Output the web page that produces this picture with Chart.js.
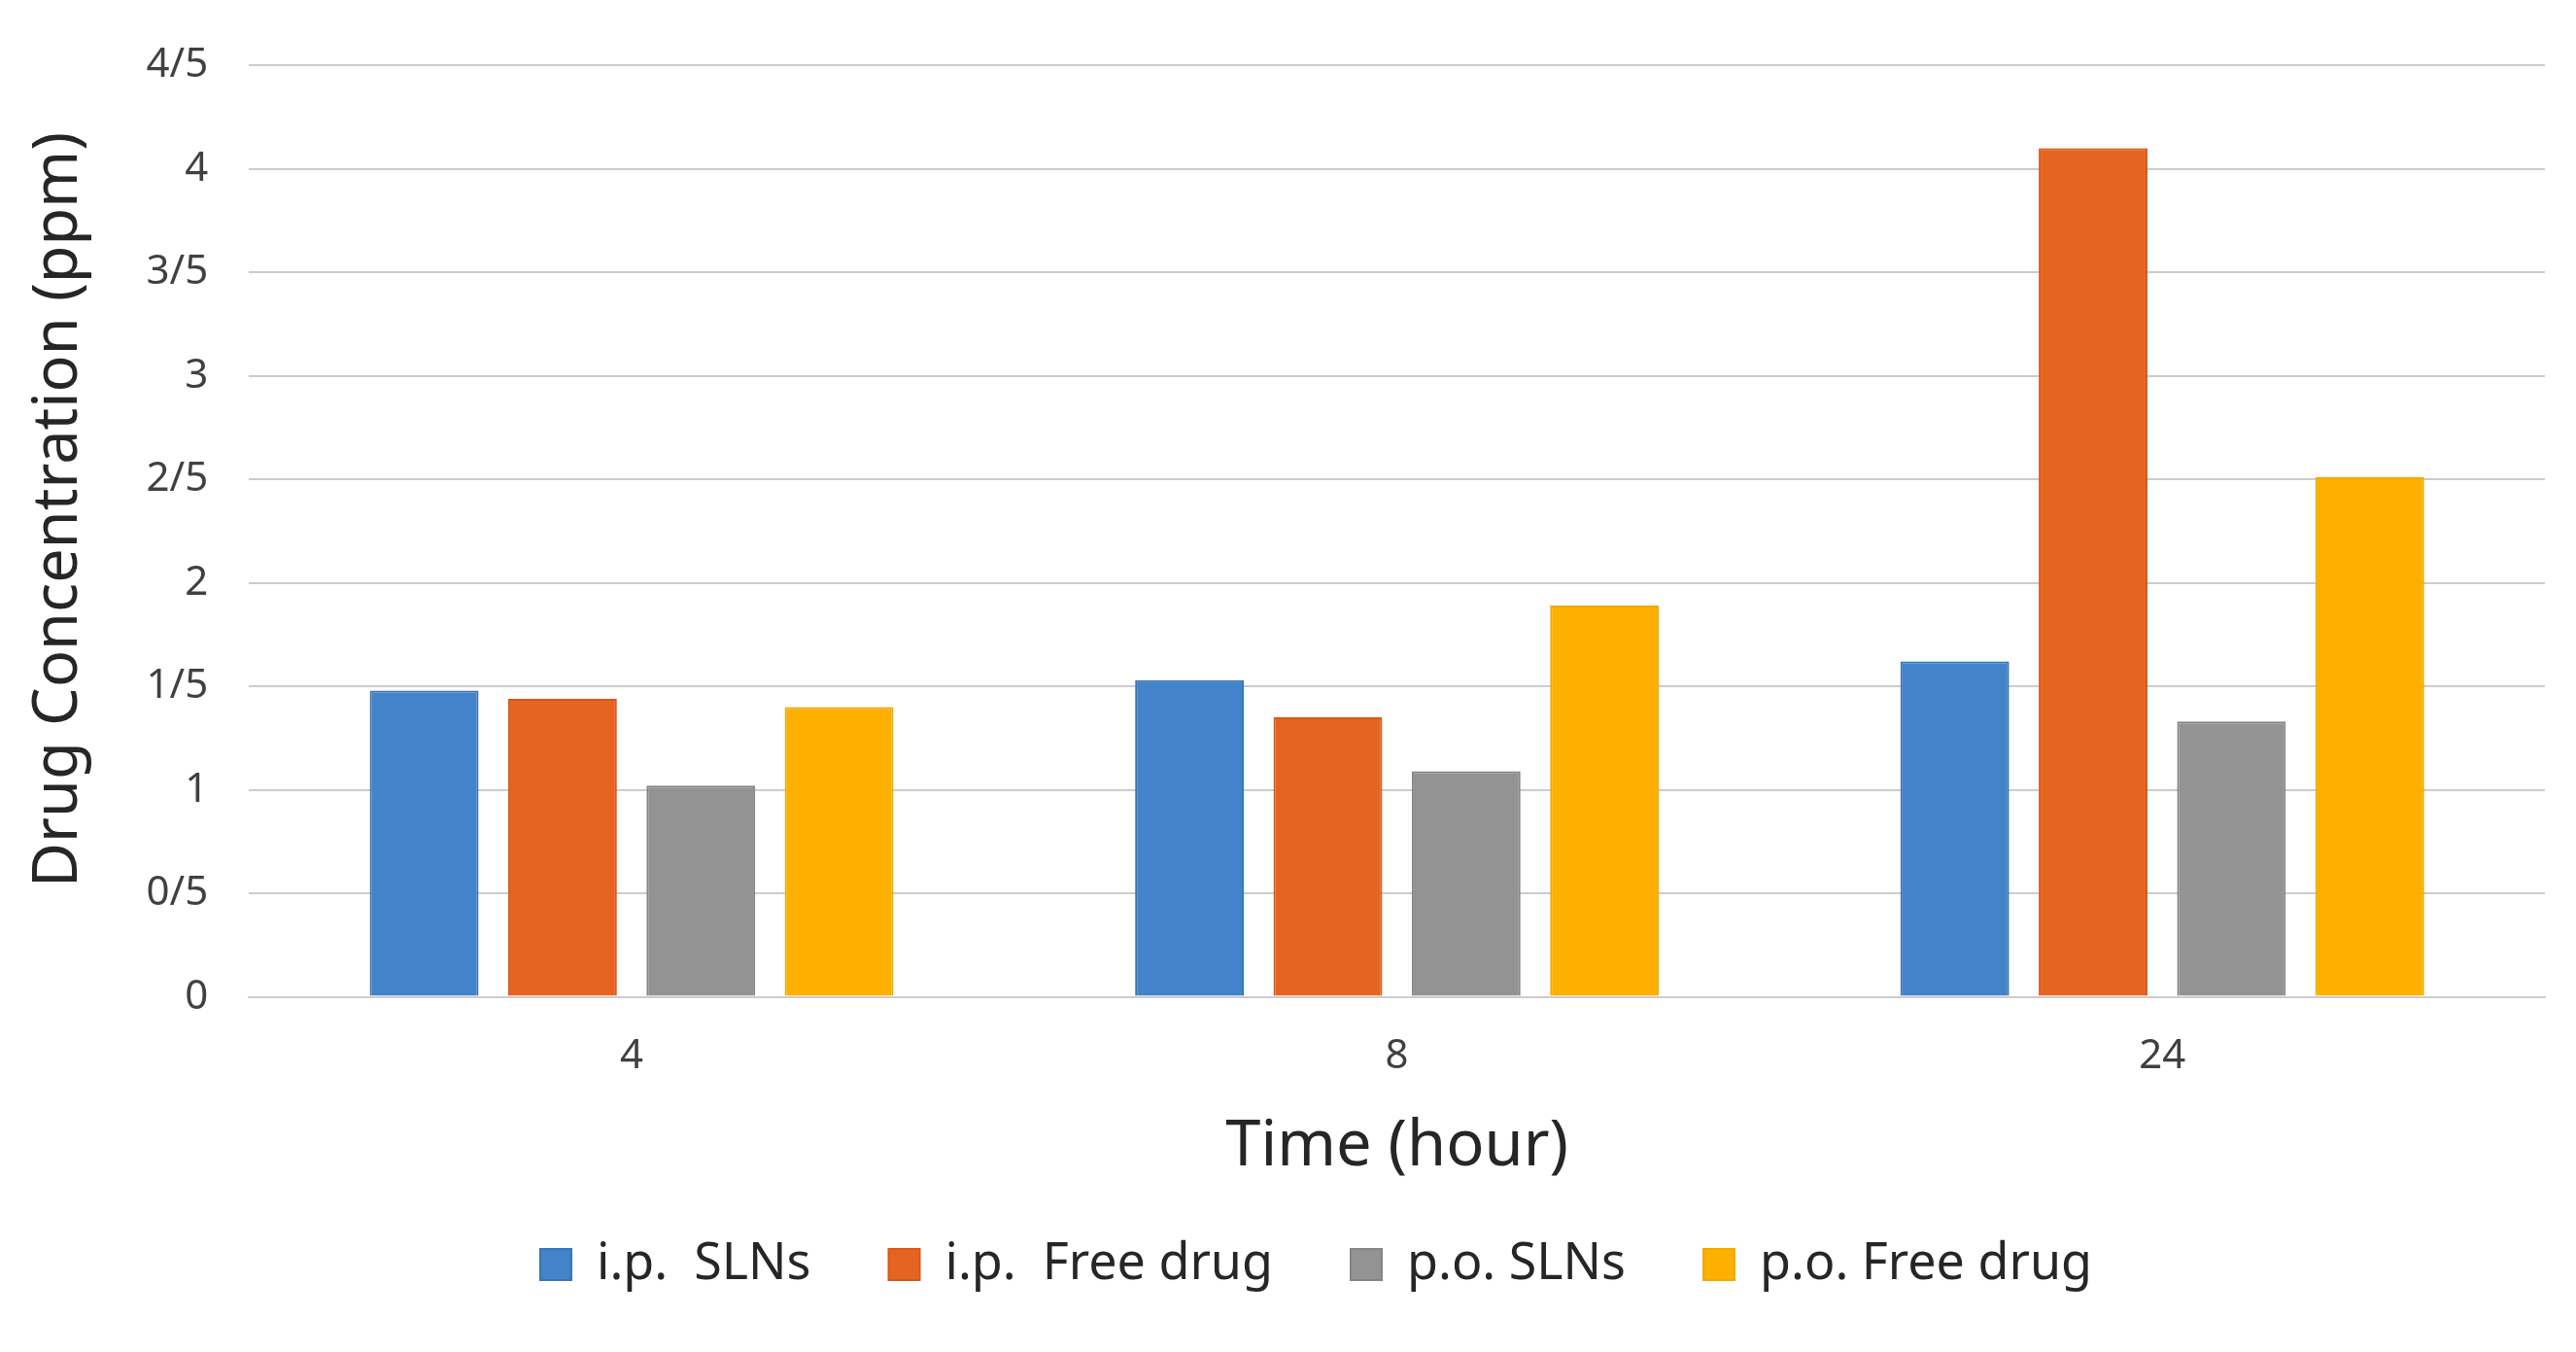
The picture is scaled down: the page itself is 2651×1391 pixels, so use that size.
<!DOCTYPE html>
<html>
<head>
<meta charset="utf-8">
<script src="https://cdn.jsdelivr.net/npm/chart.js@4.4.1/dist/chart.umd.min.js"></script>
<style>
  html, body { margin: 0; padding: 0; background: #fff; }
  #wrap { width: 2651px; height: 1391px; position: relative; }
</style>
</head>
<body>
<div id="wrap"><canvas id="chart"></canvas></div>
<script>
'use strict';

// categories (hours) and series
const timeLabels   = ['4', '8', '24'];
const ipSLNs       = [1.48, 1.53, 1.62];
const ipFreeDrug   = [1.44, 1.35, 4.10];
const poSLNs       = [1.02, 1.09, 1.33];
const poFreeDrug   = [1.40, 1.89, 2.51];

// the original uses "/" as the decimal mark
const yTickLabels  = ['0', '0/5', '1', '1/5', '2', '2/5', '3', '3/5', '4', '4/5'];

const seriesNames  = ['i.p.  SLNs', 'i.p.  Free drug', 'p.o. SLNs', 'p.o. Free drug'];
const COLORS       = ['#4383C9', '#E5641F', '#939393', '#FDB000'];
const BORDERS      = ['#3A74B4', '#D9581A', '#858585', '#F2A800'];

const FONT = '"Noto Sans", "Open Sans", "DejaVu Sans", sans-serif';
const GRID = '#CCCCCC';

const seriesData = [ipSLNs, ipFreeDrug, poSLNs, poFreeDrug];

// small offsets so legend and y title sit where the original has them
const nudge = {
  id: 'nudge',
  afterLayout(chart) {
    const lg = chart.legend;
    if (lg) { lg.left += 36; lg.right += 36; }
    const ys = chart.scales.y;
    if (ys && !ys._nudged) {
      const orig = ys.drawTitle.bind(ys);
      ys.drawTitle = function () {
        const c = this.ctx;
        c.save();
        c.translate(0, -22);
        orig();
        c.restore();
      };
      ys._nudged = true;
    }
  }
};

new Chart(document.getElementById('chart').getContext('2d'), {
  type: 'bar',
  data: {
    labels: timeLabels,
    datasets: seriesData.map((d, i) => ({
      label: seriesNames[i],
      data: d,
      backgroundColor: COLORS[i],
      borderColor: BORDERS[i],
      borderWidth: 2,
      categoryPercentage: 0.723,
      barPercentage: 0.786
    }))
  },
  plugins: [nudge],
  options: {
    responsive: true,
    maintainAspectRatio: false,
    devicePixelRatio: 1,
    animation: false,
    layout: { padding: { top: 62, right: 32, left: 18, bottom: 54 } },
    plugins: {
      tooltip: { enabled: false },
      legend: {
        position: 'bottom',
        labels: {
          color: '#262626',
          font: { family: FONT, size: 52 },
          boxWidth: 32,
          boxHeight: 32,
          padding: 80
        }
      }
    },
    scales: {
      x: {
        grid: { display: false, drawTicks: false },
        border: { color: GRID, width: 2 },
        ticks: { color: '#404040', font: { family: FONT, size: 42 }, padding: 36 },
        title: {
          display: true, text: 'Time (hour)', color: '#262626',
          font: { family: FONT, size: 65 }, padding: { top: -7, bottom: -24 }
        }
      },
      y: {
        min: 0, max: 4.5,
        grid: { color: GRID, lineWidth: 2, drawTicks: false },
        border: { display: false },
        ticks: {
          stepSize: 0.5,
          color: '#404040',
          font: { family: FONT, size: 42 },
          padding: 42,
          callback: v => yTickLabels[Math.round(v / 0.5)]
        },
        title: {
          display: true, text: 'Drug Concentration (ppm)', color: '#262626',
          font: { family: FONT, size: 63 }, padding: { top: 5, bottom: 10 }
        }
      }
    }
  }
});
</script>
</body>
</html>
